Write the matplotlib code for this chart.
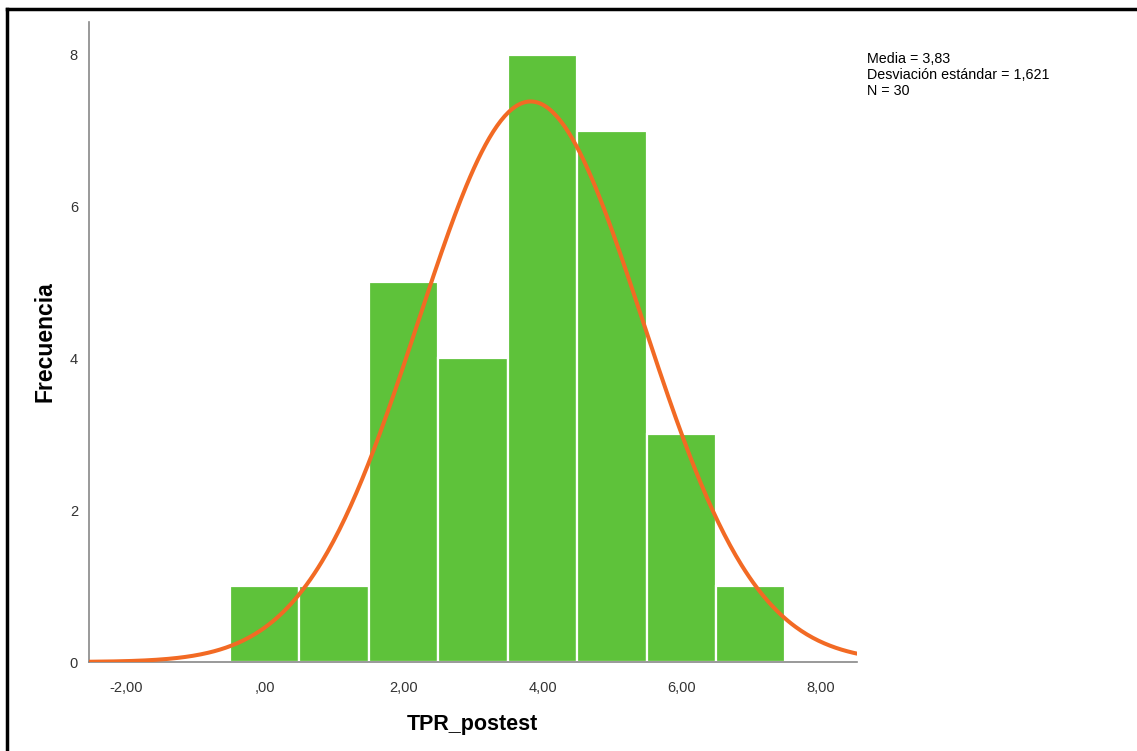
import numpy as np
import matplotlib
matplotlib.use('Agg')
import matplotlib.pyplot as plt
from matplotlib.lines import Line2D

# histogram data
bin_centers = [0, 1, 2, 3, 4, 5, 6, 7]
counts = [1, 1, 5, 4, 8, 7, 3, 1]
mean = 3.83
sd = 1.621
n = 30
x_ticks = [-2, 0, 2, 4, 6, 8]
x_tick_labels = ['-2,00', ',00', '2,00', '4,00', '6,00', '8,00']
y_ticks = [0, 2, 4, 6, 8]

plt.rcParams['font.family'] = ['Liberation Sans', 'DejaVu Sans']

fig = plt.figure(figsize=(11.37, 7.51), dpi=100)
ax = fig.add_axes([89 / 1137, 1 - 662 / 751, (857 - 89) / 1137, (662 - 22) / 751])

ax.bar(bin_centers, counts, width=1.0, color='#5EC23A', edgecolor='white', linewidth=1.6, zorder=2)

xs = np.linspace(-2.53, 8.53, 400)
ys = n * 1.0 / (sd * np.sqrt(2 * np.pi)) * np.exp(-0.5 * ((xs - mean) / sd) ** 2)
ax.plot(xs, ys, color='#F26A24', linewidth=2.9, zorder=3, solid_capstyle='round')

ax.set_xlim(-2.53, 8.53)
ax.set_ylim(0, 8.43)
ax.set_xticks(x_ticks)
ax.set_xticklabels(x_tick_labels)
ax.set_yticks(y_ticks)
ax.tick_params(length=0, labelsize=10.5, colors='#333333', pad=14)
ax.tick_params(axis='y', pad=8)

for s in ['top', 'right']:
    ax.spines[s].set_visible(False)
for s in ['left', 'bottom']:
    ax.spines[s].set_color('#888888')
    ax.spines[s].set_linewidth(1.2)

ax.set_xlabel('TPR_postest', fontsize=15.5, fontweight='bold')
ax.xaxis.set_label_coords((472 - 89) / 768, (662 - 714) / 640)
ax.set_ylabel('Frecuencia', fontsize=16.5, fontweight='bold')
ax.yaxis.set_label_coords((57 - 89) / 768, (662 - 342) / 640)

fig.text(867 / 1137, 1 - 75 / 751,
         'Media = 3,83\nDesviación estándar = 1,621\nN = 30',
         fontsize=10.3, va='center', ha='left', linespacing=1.15)

# black frame (left and top only visible)
fig.add_artist(Line2D([7 / 1137, 7 / 1137], [0, 1 - 9 / 751], color='black', linewidth=2.5))
fig.add_artist(Line2D([7 / 1137, 1], [1 - 9 / 751, 1 - 9 / 751], color='black', linewidth=2.5))

fig.savefig('out.png', dpi=100)
